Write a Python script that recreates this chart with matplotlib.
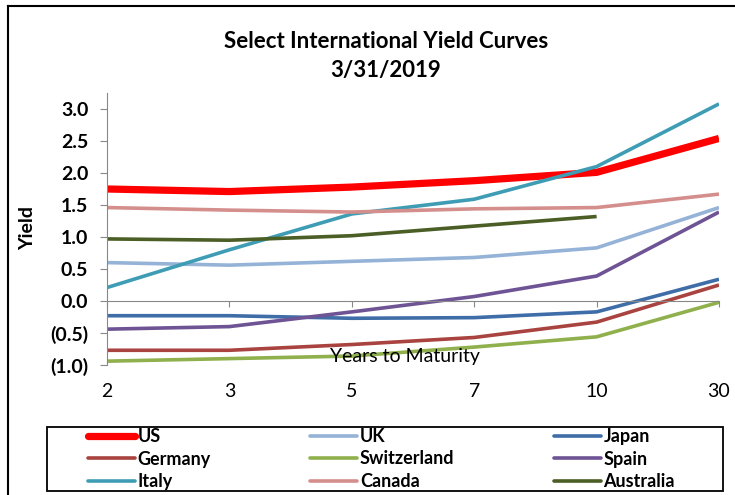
import matplotlib
matplotlib.use("Agg")
from matplotlib import pyplot as plt
from matplotlib.lines import Line2D
from matplotlib.patches import Rectangle
import numpy as np

plt.rcParams['font.family'] = ['Lato', 'DejaVu Sans']

# data
maturities = ['2', '3', '5', '7', '10', '30']
us = [1.75, 1.71, 1.78, 1.88, 2.01, 2.54]
uk = [0.60, 0.56, 0.62, 0.68, 0.83, 1.46]
japan = [-0.23, -0.23, -0.27, -0.26, -0.17, 0.34]
germany = [-0.77, -0.77, -0.68, -0.57, -0.33, 0.25]
switzerland = [-0.94, -0.90, -0.86, -0.72, -0.56, -0.02]
spain = [-0.44, -0.40, -0.17, 0.07, 0.39, 1.39]
italy = [0.21, 0.80, 1.36, 1.59, 2.10, 3.08]
canada = [1.46, 1.42, 1.39, 1.44, 1.46, 1.67]
australia = [0.97, 0.95, 1.02, 1.17, 1.32, np.nan]
yticks = [-1.0, -0.5, 0.0, 0.5, 1.0, 1.5, 2.0, 2.5, 3.0]
ylabels = ['(1.0)', '(0.5)', '0.0', '0.5', '1.0', '1.5', '2.0', '2.5', '3.0']

series = [
    ('US', us, '#ff0000', 5.2),
    ('UK', uk, '#95b3d7', 2.6),
    ('Japan', japan, '#3f6da8', 2.6),
    ('Germany', germany, '#a9433f', 2.6),
    ('Switzerland', switzerland, '#8fb04c', 2.6),
    ('Spain', spain, '#6e5495', 2.6),
    ('Italy', italy, '#3e9db4', 2.6),
    ('Canada', canada, '#d48f8d', 2.6),
    ('Australia', australia, '#4a5e25', 2.6),
]

W, H = 735, 495
fig = plt.figure(figsize=(W/100, H/100), dpi=100)
ax = fig.add_axes([107/W, 1-365/H, (719-107)/W, (365-93)/H])

x = np.arange(len(maturities))
for name, vals, col, lw in series:
    ax.plot(x, vals, color=col, lw=lw, solid_capstyle='butt', label=name)

ax.set_xlim(0, len(maturities)-1)
ax.set_ylim(-1.0, 3.25)
ax.set_yticks(yticks)
ax.set_yticklabels(ylabels, fontsize=14, fontweight='bold')
ax.tick_params(axis='y', direction='out', length=5, color='#888888', pad=8.5)

for s in ['top', 'right']:
    ax.spines[s].set_visible(False)
ax.spines['left'].set_color('#888888')
ax.spines['bottom'].set_color('#888888')
ax.spines['bottom'].set_position(('data', 0))
ax.set_xticks(x)
ax.set_xticklabels([])
ax.tick_params(axis='x', direction='out', length=4.5, color='#888888')

sec = ax.secondary_xaxis(0)
sec.set_xticks(x)
sec.set_xticklabels(maturities, fontsize=14)
sec.tick_params(length=0, pad=13)
sec.spines['bottom'].set_visible(False)

ax.text(0.487, 0.033, 'Years to Maturity', transform=ax.transAxes,
        fontsize=14, ha='center', va='center')
fig.text(28/W, 1-228/H, 'Yield', rotation=90, fontsize=14,
         fontweight='bold', ha='center', va='center')
fig.text(386/W, 1-42/H, 'Select International Yield Curves',
         ha='center', va='center', fontsize=16, fontweight='bold')
fig.text(386/W, 1-70/H, '3/31/2019',
         ha='center', va='center', fontsize=16, fontweight='bold')

# outer chart frame (top and left edges visible)
fig.add_artist(Line2D([8/W, 8/W], [0, 1-6/H], color='black', lw=1.5))
fig.add_artist(Line2D([8/W, 1], [1-6/H, 1-6/H], color='black', lw=1.5))

# legend box
fig.add_artist(Rectangle((47/W, 1-491/H), (723-47)/W, (491-427)/H,
                         transform=fig.transFigure, fill=False,
                         edgecolor='black', lw=1.3))

handles, labels = ax.get_legend_handles_labels()
# legend fills row by row: rearrange for column-major ncol
colmajor = [r*3 + c for c in range(3) for r in range(3)]
leg = fig.legend([handles[i] for i in colmajor], [labels[i] for i in colmajor],
                 ncol=3, loc='center left', bbox_to_anchor=(88/W, 1-459/H),
                 frameon=False, prop={'size': 13, 'weight': 'bold'},
                 handlelength=2.6, handletextpad=0.15, columnspacing=5.5,
                 labelspacing=0.3, borderpad=0, borderaxespad=0)
for h in leg.legend_handles:
    h.set_solid_capstyle('round')

fig.savefig('out.png', dpi=100)
